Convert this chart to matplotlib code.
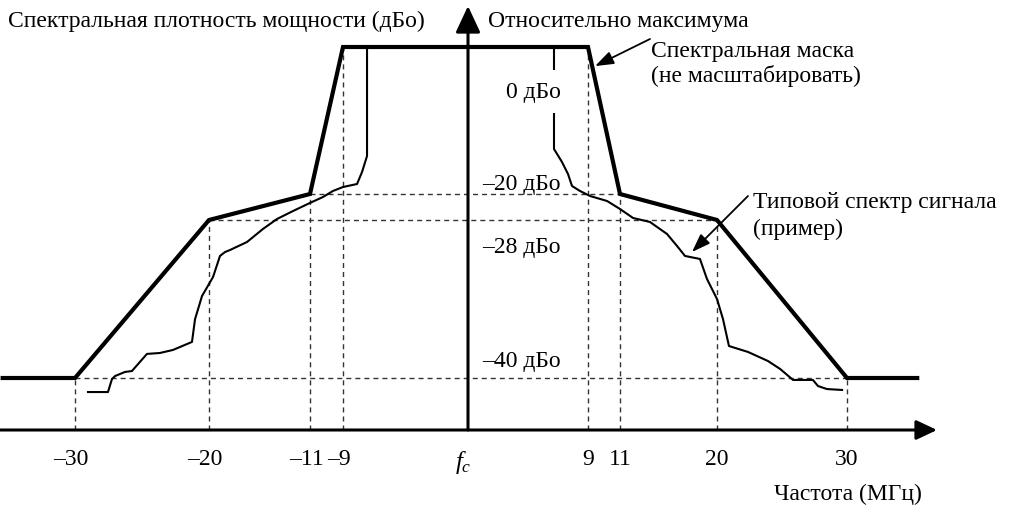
import numpy as np
import matplotlib
matplotlib.use("Agg")
import matplotlib.pyplot as plt

plt.rcParams['font.family'] = ['Liberation Serif', 'DejaVu Serif']
plt.rcParams['mathtext.fontset'] = 'custom'
plt.rcParams['mathtext.it'] = 'Liberation Serif:italic'
plt.rcParams['mathtext.rm'] = 'Liberation Serif'

# ---------------- data ----------------
mask_freq = [-35.4, -30, -20, -11, -9, 9, 11, 20, 30, 35.4]
mask_db = [-40, -40, -28, -20, 0, 0, -20, -28, -40, -40]

sig_left_freq = [-29.03, -27.54, -27.24, -27.01, -26.27, -25.75, -24.63, -23.66, -22.69,
                 -21.27, -21.04, -20.52, -19.64, -19.02, -18.57, -18.13, -16.61, -15.19,
                 -13.94, -12.51, -10.88, -10.21, -9.61, -9.0, -7.99, -7.63, -7.27, -7.27]
sig_left_db = [-41.08, -41.08, -40.08, -39.85, -39.54, -39.47, -38.17, -38.10, -37.87,
               -37.26, -35.52, -33.77, -32.33, -30.73, -30.43, -30.28, -29.67, -28.68,
               -27.69, -25.23, -22.46, -20.92, -19.59, -19.05, -18.64, -17.01, -14.83, 0.0]

sig_right_freq = [6.45, 6.45, 7.05, 7.50, 7.80, 8.40, 9.13, 10.19, 11.0, 12.21, 13.78,
                  15.36, 16.29, 17.03, 18.42, 19.07, 20.0, 20.46, 20.92, 22.38, 23.92,
                  24.85, 25.85, 27.38, 27.77, 28.46, 29.62]
sig_right_db = [0.0, -13.88, -15.65, -17.28, -18.91, -19.59, -20.62, -22.15, -24.62,
                -27.38, -28.15, -29.06, -29.97, -30.73, -30.96, -32.48, -34.0, -35.52,
                -37.57, -38.02, -38.71, -39.31, -40.15, -40.15, -40.62, -40.85, -40.92]

level_db = [-20, -28, -40]
level_span = [11, 20, 30]          # +/- frequency extent of each reference level
level_labels = ['–20 дБо', '–28 дБо', '–40 дБо']
zero_label = '0 дБо'

tick_freq = [-30, -20, -11, -9, 0, 9, 11, 20, 30]
tick_labels = ['–30', '–20', '–11', '–9', r'$f_c$', '9', '11', '20', '30']
vline_db = [-40, -28, -20, 0, None, 0, -20, -28, -40]

axis_db = -44.0

# -------------- schematic (non-uniform) scales --------------
XF = [-60, -30, -20, -11, -9, 0, 9, 11, 20, 30, 60]
XP = [-327, 75, 209, 310, 343, 468, 588, 620, 717, 847, 1237]
YF = [-80, -40, -28, -20, 0, 20]
YP = [-389, 131, 289, 315, 462, 609]

fx = lambda v: np.interp(v, XF, XP)
ix = lambda p: np.interp(p, XP, XF)
fy = lambda v: np.interp(v, YF, YP)
iy = lambda p: np.interp(p, YP, YF)

W, H = 1021, 510
fig = plt.figure(figsize=(W / 100, H / 100), dpi=100)
ax = fig.add_axes([0, 0, 1, 1])
ax.set_xscale('function', functions=(fx, ix))
ax.set_yscale('function', functions=(fy, iy))
ax.set_xlim(float(ix(0)), float(ix(W)))
ax.set_ylim(float(iy(0)), float(iy(H)))
ax.axis('off')

dash_kw = dict(color='#333333', lw=1.0, dashes=(3.6, 2.9), zorder=1)

# reference level dashed lines
for d, s in zip(level_db, level_span):
    ax.plot([-s, s], [d, d], **dash_kw)
# vertical dashed lines
for f, d in zip(tick_freq, vline_db):
    if d is None:
        continue
    ax.plot([f, f], [axis_db, d], **dash_kw)

# mask
ax.plot(mask_freq, mask_db, color='black', lw=3.0, solid_joinstyle='miter', zorder=4)
# typical signal spectrum
ax.plot(sig_left_freq, sig_left_db, color='black', lw=1.5, zorder=3)
ax.plot(sig_right_freq, sig_right_db, color='black', lw=1.5, zorder=3)

# axes with arrows
x_tip = float(ix(937))
y_tip = float(iy(H - 7))
ax.annotate('', xy=(x_tip, axis_db), xytext=(float(ix(0)), axis_db),
            arrowprops=dict(arrowstyle='-|>,head_length=0.7,head_width=0.33', lw=2.2,
                            color='black', shrinkA=0, shrinkB=0, mutation_scale=18),
            zorder=5)
ax.annotate('', xy=(0, y_tip), xytext=(0, axis_db),
            arrowprops=dict(arrowstyle='-|>,head_length=0.9,head_width=0.42', lw=2.2,
                            color='black', shrinkA=0, shrinkB=0, mutation_scale=18),
            zorder=5)

fs = 17
def px(x, y):
    return (x / W, 1 - y / H)

# level labels
ax.text(*px(561, 98), zero_label, transform=ax.transAxes, ha='right', va='baseline',
        fontsize=fs, zorder=6,
        bbox=dict(boxstyle='square,pad=0.45', fc='white', ec='none'))
for lab, yb in zip(level_labels, [190, 253, 367]):
    ax.text(*px(561, yb), lab, transform=ax.transAxes, ha='right', va='baseline',
            fontsize=fs, zorder=6)

# tick labels
for f, lab in zip(tick_freq, tick_labels):
    off = -4 if lab.startswith('–') else 0
    if lab == r'$f_c$':
        ax.annotate(lab, xy=(f, axis_db), xytext=(-5, -38), textcoords='offset pixels',
                    ha='center', va='baseline', fontsize=fs + 1)
    else:
        ax.annotate(lab, xy=(f, axis_db), xytext=(off, -34), textcoords='offset pixels',
                    ha='center', va='baseline', fontsize=fs)

# axis titles
ax.text(*px(8, 27), 'Спектральная плотность мощности (дБо)', transform=ax.transAxes,
        ha='left', va='baseline', fontsize=fs)
ax.text(*px(488, 27), 'Относительно максимума', transform=ax.transAxes,
        ha='left', va='baseline', fontsize=fs)
ax.text(*px(922, 500), 'Частота (МГц)', transform=ax.transAxes,
        ha='right', va='baseline', fontsize=fs)

# annotations
ax.text(*px(651, 57), 'Спектральная маска', transform=ax.transAxes,
        ha='left', va='baseline', fontsize=fs)
ax.text(*px(651, 82), '(не масштабировать)', transform=ax.transAxes,
        ha='left', va='baseline', fontsize=fs)
ax.annotate('', xy=(9.44, -2.6), xytext=(650, H - 40), textcoords='figure pixels',
            arrowprops=dict(arrowstyle='-|>,head_length=0.7,head_width=0.25', lw=1.3,
                            color='black', shrinkA=0, shrinkB=0, mutation_scale=16))

ax.text(*px(753, 208), 'Типовой спектр сигнала', transform=ax.transAxes,
        ha='left', va='baseline', fontsize=fs)
ax.text(*px(753, 235), '(пример)', transform=ax.transAxes,
        ha='left', va='baseline', fontsize=fs)
ax.annotate('', xy=(17.68, -30.43), xytext=(748, H - 197), textcoords='figure pixels',
            arrowprops=dict(arrowstyle='-|>,head_length=0.7,head_width=0.25', lw=1.3,
                            color='black', shrinkA=0, shrinkB=0, mutation_scale=16))

fig.savefig('out.png', dpi=100)
